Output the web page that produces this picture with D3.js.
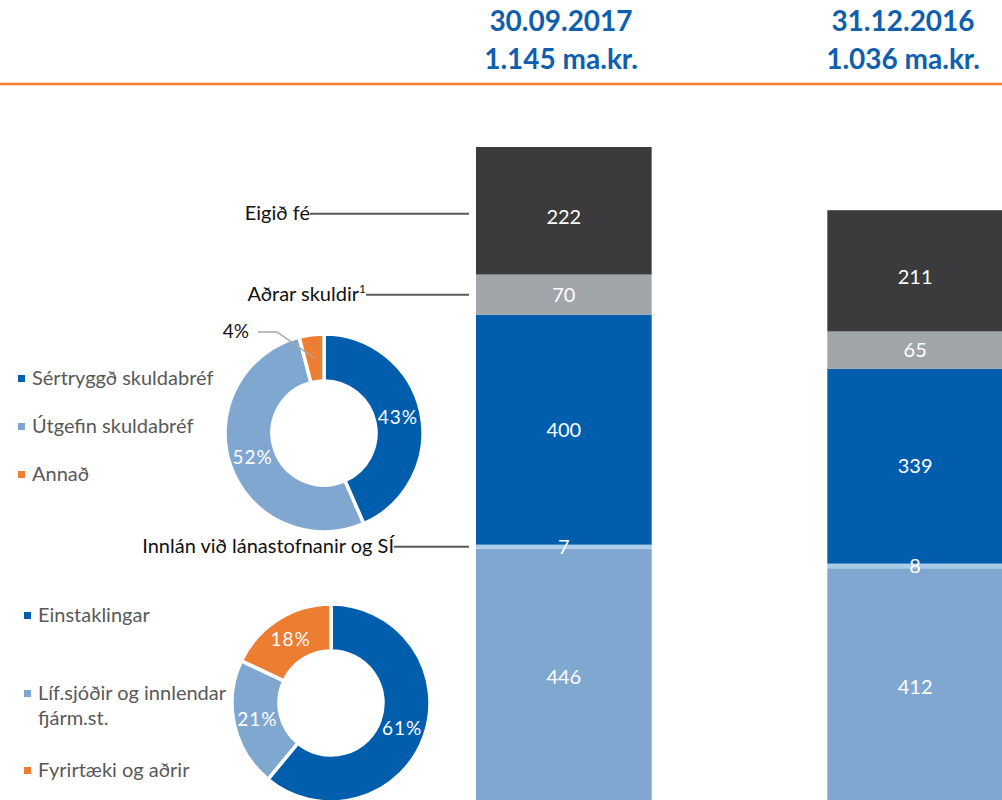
<!DOCTYPE html>
<html>
<head>
<meta charset="utf-8">
<script src="https://cdn.jsdelivr.net/npm/d3@7"></script>
<style>
  body { margin: 0; background: #fff; }
  text { font-family: Lato, "Open Sans", sans-serif; }
</style>
</head>
<body>
<div id="chart"></div>
<script>
var svgWidth = 1002;
var svgHeight = 800;

// Data
// ==============================
var periods = ["30.09.2017", "31.12.2016"];
var totals = ["1.145 ma.kr.", "1.036 ma.kr."];
var segments = ["Innlán", "Innlán við lánastofnanir og SÍ", "Lántaka", "Aðrar skuldir", "Eigið fé"];
var values2017 = [446, 7, 400, 70, 222];
var values2016 = [412, 8, 339, 65, 211];

var bondLabels = ["Sértryggð skuldabréf", "Útgefin skuldabréf", "Annað"];
var bondShares = [43, 52, 4];

var depositLabels = ["Einstaklingar", "Líf.sjóðir og innlendar|fjárm.st.", "Fyrirtæki og aðrir"];
var depositShares = [61, 21, 18];

var segColors = ["#7fa7cf", "#a9cce9", "#005ead", "#a0a5aa", "#3b3b3d"];
var pieColors = ["#005ead", "#7fa7cf", "#ed7d31"];

var svg = d3.select("#chart")
  .append("svg")
  .attr("width", svgWidth)
  .attr("height", svgHeight);

// Header
// ==============================
var headerX = [561, 903];
periods.forEach(function(p, i) {
  var t = svg.append("text")
    .attr("x", headerX[i])
    .attr("text-anchor", "middle")
    .attr("font-weight", "bold")
    .attr("font-size", "28px")
    .attr("fill", "#0f5fae");
  t.append("tspan").attr("x", headerX[i]).attr("y", 31).text(p);
  t.append("tspan").attr("x", headerX[i]).attr("y", 69).text(totals[i]);
});

svg.append("line")
  .attr("x1", 0).attr("x2", svgWidth)
  .attr("y1", 84).attr("y2", 84)
  .attr("stroke", "#f47b30")
  .attr("stroke-width", 2.5);

// Stacked bars
// ==============================
var rows = periods.map(function(p, i) {
  var row = { period: p };
  segments.forEach(function(s, j) {
    row[s] = (i === 0 ? values2017 : values2016)[j];
  });
  return row;
});

var stacked = d3.stack().keys(segments)(rows);

var xScale = d3.scaleBand()
  .domain(periods)
  .range([476, 1003])
  .paddingInner(0.5)
  .paddingOuter(0);

var yScale = d3.scaleLinear()
  .domain([0, 1145])
  .range([805, 147]);

var layers = svg.selectAll(".layer")
  .data(stacked)
  .enter()
  .append("g")
  .attr("class", "layer")
  .attr("fill", (d, i) => segColors[i]);

layers.selectAll("rect")
  .data(d => d)
  .enter()
  .append("rect")
  .attr("x", d => xScale(d.data.period))
  .attr("y", d => yScale(d[1]))
  .attr("width", xScale.bandwidth())
  .attr("height", d => yScale(d[0]) - yScale(d[1]));

// value labels go on top of every rect
var labelGroup = svg.append("g");
stacked.forEach(function(layer) {
  labelGroup.selectAll(null)
    .data(layer)
    .enter()
    .append("text")
    .attr("x", d => xScale(d.data.period) + xScale.bandwidth() / 2)
    .attr("y", d => (yScale(d[0]) + yScale(d[1])) / 2 + (layer.key === "Eigið fé" ? 6 : 0))
    .attr("dy", "0.35em")
    .attr("text-anchor", "middle")
    .attr("font-size", "20px")
    .attr("fill", "#fff")
    .text(d => d[1] - d[0]);
});

// Leader labels on the left of the first bar
// ==============================
var leaders = [
  { key: "Eigið fé", text: "Eigið fé", sup: false },
  { key: "Aðrar skuldir", text: "Aðrar skuldir", sup: true },
  { key: "Innlán við lánastofnanir og SÍ", text: "Innlán við lánastofnanir og SÍ", sup: false }
];
var textEnd = { "Eigið fé": 310, "Aðrar skuldir": 366, "Innlán við lánastofnanir og SÍ": 394 };

leaders.forEach(function(l) {
  var layer = stacked[segments.indexOf(l.key)][0];
  var ly = (yScale(layer[0]) + yScale(layer[1])) / 2;
  if (l.key === "Eigið fé") ly += 3;
  var t = svg.append("text")
    .attr("x", textEnd[l.key])
    .attr("y", ly + 6)
    .attr("text-anchor", "end")
    .attr("font-size", "20px")
    .attr("fill", "#111")
    .text(l.text);
  if (l.sup) {
    t.append("tspan").attr("font-size", "12px").attr("dy", -8).text("1");
  }
  svg.append("line")
    .attr("x1", textEnd[l.key]).attr("x2", xScale(periods[0]) - 7)
    .attr("y1", ly).attr("y2", ly)
    .attr("stroke", "#595959")
    .attr("stroke-width", 2);
});

// Donuts
// ==============================
function drawDonut(cx, cy, shares, labels, legendX, legendY) {
  var pie = d3.pie().sort(null).value(d => d);
  var arc = d3.arc().innerRadius(52).outerRadius(99);
  var labelArc = d3.arc().innerRadius(75.5).outerRadius(75.5);
  var g = svg.append("g").attr("transform", `translate(${cx}, ${cy})`);
  var arcs = pie(shares);

  g.selectAll("path")
    .data(arcs)
    .enter()
    .append("path")
    .attr("d", arc)
    .attr("fill", (d, i) => pieColors[i])
    .attr("stroke", "#fff")
    .attr("stroke-width", 3.5);

  g.selectAll("text")
    .data(arcs.filter(d => d.data > 10))
    .enter()
    .append("text")
    .attr("transform", d => `translate(${labelArc.centroid(d)})`)
    .attr("dy", "0.35em")
    .attr("text-anchor", "middle")
    .attr("font-size", "19px")
    .attr("letter-spacing", "1px")
    .attr("fill", "#fff")
    .text(d => d.data + "%");

  // legend
  labels.forEach(function(lab, i) {
    var lines = lab.split("|");
    svg.append("rect")
      .attr("x", legendX)
      .attr("y", legendY[i] - 10)
      .attr("width", 7)
      .attr("height", 7)
      .attr("fill", pieColors[i]);
    var t = svg.append("text")
      .attr("font-size", "20px")
      .attr("fill", "#595959");
    lines.forEach(function(line, k) {
      t.append("tspan")
        .attr("x", legendX + 14)
        .attr("y", legendY[i] + k * 25)
        .text(line);
    });
  });
  return { g: g, arcs: arcs, labelArc: labelArc };
}

var bonds = drawDonut(324, 433, bondShares, bondLabels, 18, [385, 433, 481]);
var deposits = drawDonut(331, 703, depositShares, depositLabels, 24, [622, 700, 777]);

// small slice label with leader line
var small = bonds.arcs[2];
var c = bonds.labelArc.centroid(small);
svg.append("polyline")
  .attr("points", [[258, 332], [277, 332], [324 + c[0], 433 + c[1]]].map(p => p.join(",")).join(" "))
  .attr("fill", "none")
  .attr("stroke", "#a6a6a6")
  .attr("stroke-width", 1.5);

svg.append("text")
  .attr("x", 249)
  .attr("y", 338)
  .attr("text-anchor", "end")
  .attr("font-size", "19px")
  .attr("fill", "#111")
  .text(small.data + "%");
</script>
</body>
</html>
